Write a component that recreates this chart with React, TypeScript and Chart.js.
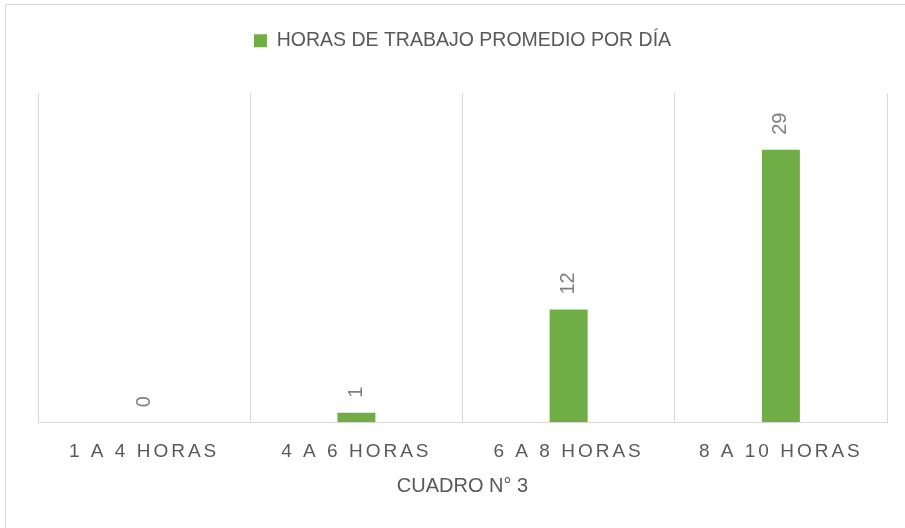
import { useEffect, useRef } from "react";
import { Chart, registerables } from "chart.js";

Chart.register(...registerables);

const categories = ["1 A 4 HORAS", "4 A 6 HORAS", "6 A 8 HORAS", "8 A 10 HORAS"];
const seriesName = "HORAS DE TRABAJO PROMEDIO POR DÍA";
const values = [0, 1, 12, 29];
const axisTitle = "CUADRO N° 3";
const yMin = 0;
const yMax = 35;

const FONT = '"Liberation Sans", Arial, sans-serif';
const TEXT = "#595959";
const GRID = "#d9d9d9";
const BAR = "#70ad47";
const LABEL = "#808080";

const dataLabelPlugin = {
  id: "verticalDataLabels",
  afterDatasetsDraw(chart: any) {
    const ctx = chart.ctx;
    const meta = chart.getDatasetMeta(0);
    const data = chart.data.datasets[0].data;
    ctx.save();
    ctx.fillStyle = LABEL;
    ctx.font = `20px ${FONT}`;
    ctx.textAlign = "left";
    ctx.textBaseline = "middle";
    meta.data.forEach((bar: any, i: number) => {
      ctx.save();
      ctx.translate(bar.x, bar.y - 15);
      ctx.rotate(-Math.PI / 2);
      ctx.fillText(String(data[i]), 0, 0);
      ctx.restore();
    });
    ctx.restore();
  },
};

const tickSpacingPlugin = {
  id: "tickLetterSpacing",
  afterLayout(chart: any) {
    const xs = chart.scales.x;
    if (!xs || xs.__spaced) return;
    const orig = xs.drawLabels;
    xs.drawLabels = function (area: any) {
      const c = this.ctx;
      c.save();
      c.letterSpacing = "3px";
      orig.call(this, area);
      c.restore();
    };
    xs.__spaced = true;
  },
};

export default function App() {
  const ref = useRef<HTMLCanvasElement | null>(null);

  useEffect(() => {
    if (!ref.current) return;
    const chart = new Chart(ref.current, {
      type: "bar",
      data: {
        labels: categories,
        datasets: [
          {
            label: seriesName,
            data: values,
            backgroundColor: BAR,
            borderWidth: 0,
            categoryPercentage: 1,
            barPercentage: 0.179,
          },
        ],
      },
      options: {
        responsive: false,
        animation: false,
        layout: { padding: { left: 38, right: 18, top: 0, bottom: 30 } },
        plugins: {
          legend: {
            display: true,
            position: "top",
            labels: {
              boxWidth: 13,
              boxHeight: 13,
              padding: 31,
              color: TEXT,
              font: { size: 19.5, family: FONT },
            },
          },
          subtitle: {
            display: true,
            text: "",
            position: "top",
            weight: 500,
            font: { size: 10, lineHeight: 1 },
            padding: { top: 23, bottom: 0 },
          },
          tooltip: { enabled: false },
        },
        scales: {
          x: {
            grid: {
              display: true,
              color: GRID,
              lineWidth: 1,
              drawTicks: false,
              offset: true,
            },
            border: { display: true, color: GRID, width: 1 },
            ticks: {
              color: TEXT,
              font: { size: 19, family: FONT },
              padding: 18,
              maxRotation: 0,
            },
            title: {
              display: true,
              text: axisTitle,
              color: TEXT,
              font: { size: 20, family: FONT },
              padding: { top: -7, bottom: 0 },
            },
          },
          y: {
            display: false,
            min: yMin,
            max: yMax,
          },
        },
      },
      plugins: [dataLabelPlugin, tickSpacingPlugin],
    });
    return () => chart.destroy();
  }, []);

  return (
    <div
      style={{
        position: "absolute",
        left: 0,
        top: 0,
        width: 905,
        height: 528,
        overflow: "hidden",
        background: "#ffffff",
      }}
    >
      <div
        style={{
          position: "absolute",
          left: 5,
          top: 4,
          width: 920,
          height: 540,
          borderLeft: `1px solid ${GRID}`,
          borderTop: `1px solid ${GRID}`,
        }}
      />
      <canvas
        ref={ref}
        width={905}
        height={528}
        style={{ position: "absolute", left: 0, top: 0, width: 905, height: 528 }}
      />
    </div>
  );
}
